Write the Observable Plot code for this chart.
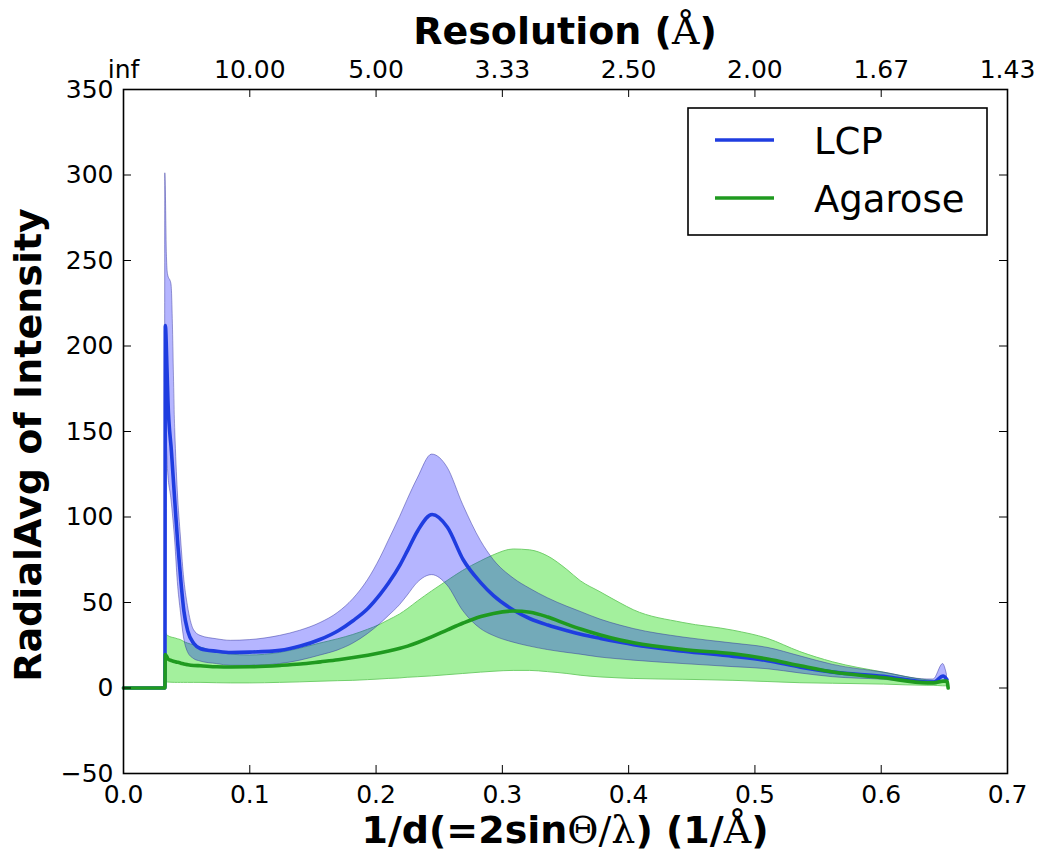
<!DOCTYPE html>
<html>
<head>
<meta charset="utf-8">
<script src="https://cdn.jsdelivr.net/npm/d3@7"></script>
<script src="https://cdn.jsdelivr.net/npm/@observablehq/plot@0.6"></script>
<style>
  html, body { margin: 0; padding: 0; background: #fff; }
  #wrap { position: relative; width: 1041px; height: 856px; overflow: hidden; }
  #wrap > svg { position: absolute; left: 0; top: 0; }
  #overlay { pointer-events: none; }
</style>
</head>
<body>
<div id="wrap"></div>
<script>
// 1/d grid (1/Å)
const q = [0, 0.0328, 0.0331, 0.0345, 0.0352, 0.038, 0.041, 0.043, 0.0455, 0.0478,
  0.051, 0.0557, 0.061, 0.074, 0.085, 0.1, 0.124, 0.14, 0.156, 0.17,
  0.182, 0.1935, 0.2035, 0.21, 0.219, 0.225, 0.233, 0.2444, 0.2565, 0.269,
  0.283, 0.293, 0.309, 0.322, 0.336, 0.3515, 0.362, 0.3777, 0.3935, 0.404,
  0.4434, 0.483, 0.51, 0.536, 0.562, 0.602, 0.6366, 0.6415, 0.649, 0.652, 0.653];

const lcpMean = [0, 0, 212, 185, 168, 138, 105, 84, 62, 45,
  33, 26, 23, 21.5, 20.8, 21, 22, 24.5, 28.5, 33.5,
  39.5, 46.5, 55, 61.5, 72, 80.5, 92, 101.5, 94, 75,
  61.5, 54, 45.5, 40.5, 36.8, 33.5, 31.5, 29, 26.7, 25.3,
  21.5, 18.5, 16, 12.2, 9.3, 6.8, 3.5, 3.5, 7, 5, NaN];
const lcpHigh = [0, 0, 301, 250, 242, 236, 150, 115, 88, 66,
  48, 34, 30.5, 28.5, 27.6, 28, 30.5, 33.5, 38, 44,
  52, 63, 76, 86, 100, 110, 122.5, 136.5, 129, 107,
  86, 75, 64, 58, 52.5, 47.5, 44.5, 40, 36.5, 34.5,
  29.5, 26, 23.5, 18.5, 13.5, 9, 5, 5, 14, 8, NaN];
const lcpLow = [0, 0, 160, 140, 128, 110, 85, 62, 44, 30,
  21, 17, 15.5, 14, 13, 13, 14, 16, 19, 22,
  26, 31.5, 37.5, 42, 48.5, 54, 61.5, 66, 60, 45,
  34.5, 30.5, 26.5, 24.2, 22.2, 20.5, 19.5, 17.8, 16.7, 16,
  14, 12.2, 11, 8.5, 6.3, 4.8, 2.7, 2.5, 3, 3, NaN];

const agMean = [0, 0, 19.5, 18, 17, 16, 15.3, 15, 14.5, 14,
  13.6, 13.2, 13, 12.4, 12.3, 12.4, 13.2, 14, 15.3, 16.5,
  17.8, 19.2, 20.6, 21.6, 23.2, 24.5, 26.6, 30, 34, 38,
  41.8, 43.6, 45, 44.3, 41.5, 37.2, 34.5, 31, 28, 26.4,
  22.5, 20, 17, 13, 9.3, 6, 3, 3, 4, 4, 0];
const agHigh = [0, 0, 32.5, 31, 30.5, 29.5, 29, 28.5, 28, 27,
  26, 25, 23.7, 21, 19.5, 19, 20.5, 23, 26, 28.5,
  31, 34, 37, 39.5, 43, 46, 50.5, 56.5, 62.5, 68.5,
  74, 77.5, 81, 80.5, 77, 69, 62.5, 56, 49.5, 45.5,
  38, 33.5, 28.8, 21, 15, 9, 4.5, 4.2, 4, 5, 0];
const agLow = [0, 0, 3.5, 3.3, 3.2, 3.1, 3, 3, 3, 3,
  3, 3, 3, 2.8, 2.7, 2.7, 3, 3.3, 3.7, 4,
  4.2, 4.6, 5, 5.3, 5.6, 6, 6.3, 6.8, 7.5, 8.2,
  9, 9.5, 10, 10, 9.3, 8.2, 7.2, 6.2, 5.6, 5.3,
  4.8, 4.2, 3.5, 2.8, 2.5, 2, 1.3, 1.3, 1, 1, 0];

const xTicks = [0, 0.1, 0.2, 0.3, 0.4, 0.5, 0.6, 0.7];
const resLabels = ["inf", "10.00", "5.00", "3.33", "2.50", "2.00", "1.67", "1.43"];
const yTicks = [-50, 0, 50, 100, 150, 200, 250, 300, 350];
const seriesNames = ["LCP", "Agarose"];
const seriesColors = ["#1f3de0", "#1f9a1f"];

const rows = q.map((x, i) => ({
  q: x,
  lcp: lcpMean[i], lcpHi: lcpHigh[i], lcpLo: lcpLow[i],
  ag: agMean[i], agHi: agHigh[i], agLo: agLow[i]
}));

const W = 1041, H = 856, mL = 123, mR = 34, mT = 89, mB = 83;
const frameW = W - mL - mR, frameH = H - mT - mB, tickLen = 8;

const chart = Plot.plot({
  width: W, height: H,
  marginLeft: mL, marginRight: mR, marginTop: mT, marginBottom: mB,
  x: {domain: [0, 0.7], label: null},
  y: {domain: [-50, 350], label: null},
  style: {fontFamily: "DejaVu Sans", fontSize: "25px", background: "white", color: "black"},
  marks: [
    Plot.areaY(rows, {x: "q", y1: "agLo", y2: "agHi", curve: "monotone-x",
      fill: "#a3f09d", stroke: "#72cf6c", strokeWidth: 1}),
    Plot.areaY(rows, {x: "q", y1: "lcpLo", y2: "lcpHi", curve: "monotone-x",
      fill: "#0000ff", fillOpacity: 0.29, stroke: "#2a2a9a", strokeOpacity: 0.45, strokeWidth: 1}),
    Plot.line(rows, {x: "q", y: "lcp", curve: "monotone-x", stroke: seriesColors[0], strokeWidth: 3.6}),
    Plot.line(rows, {x: "q", y: "ag", curve: "monotone-x", stroke: seriesColors[1], strokeWidth: 3.6}),
    // inward ticks
    Plot.tickX(xTicks, {x: d => d, insetTop: frameH - tickLen, stroke: "black", strokeWidth: 1}),
    Plot.tickX(xTicks, {x: d => d, insetBottom: frameH - tickLen, stroke: "black", strokeWidth: 1}),
    Plot.tickY(yTicks, {y: d => d, insetRight: frameW - tickLen, stroke: "black", strokeWidth: 1}),
    Plot.tickY(yTicks, {y: d => d, insetLeft: frameW - tickLen, stroke: "black", strokeWidth: 1}),
    Plot.axisX(xTicks, {anchor: "bottom", tickSize: 0, tickPadding: 12, label: null,
      tickFormat: d => d.toFixed(1)}),
    Plot.axisX(xTicks, {anchor: "top", tickSize: 0, tickPadding: 12, label: null,
      tickFormat: d => resLabels[xTicks.indexOf(d)]}),
    Plot.axisY(yTicks, {anchor: "left", tickSize: 0, tickPadding: 10, label: null,
      tickFormat: d => d < 0 ? "\u2212" + Math.abs(d) : String(d)}),
    Plot.frame({stroke: "black", strokeWidth: 1.6})
  ]
});

const wrap = document.getElementById("wrap");
wrap.appendChild(chart);

// Overlay: titles and legend
const ns = "http://www.w3.org/2000/svg";
const ov = document.createElementNS(ns, "svg");
ov.setAttribute("id", "overlay");
ov.setAttribute("width", W);
ov.setAttribute("height", H);
wrap.appendChild(ov);

function mkText(x, y, parts, opts = {}) {
  const t = document.createElementNS(ns, "text");
  t.setAttribute("x", x);
  t.setAttribute("y", y);
  t.setAttribute("font-family", "DejaVu Sans");
  t.setAttribute("font-size", opts.size || 38);
  t.setAttribute("font-weight", opts.weight || "bold");
  t.setAttribute("text-anchor", opts.anchor || "middle");
  if (opts.transform) t.setAttribute("transform", opts.transform);
  for (const p of parts) {
    const s = document.createElementNS(ns, "tspan");
    s.textContent = p.t;
    if (p.serif) { s.setAttribute("font-family", "DejaVu Serif"); s.setAttribute("font-weight", "normal"); }
    t.appendChild(s);
  }
  ov.appendChild(t);
  return t;
}

const cx = mL + frameW / 2;
mkText(cx, 44, [{t: "Resolution ("}, {t: "Å", serif: true}, {t: ")"}]);
mkText(cx, 843, [{t: "1/d(=2sin"}, {t: "Θ/λ", serif: true}, {t: ") (1/"}, {t: "Å", serif: true}, {t: ")"}]);
mkText(0, 0, [{t: "RadialAvg of Intensity"}], {transform: "translate(41,445) rotate(-90)"});

// Legend
const lg = document.createElementNS(ns, "rect");
lg.setAttribute("x", 688); lg.setAttribute("y", 108);
lg.setAttribute("width", 299); lg.setAttribute("height", 127);
lg.setAttribute("fill", "white"); lg.setAttribute("stroke", "black"); lg.setAttribute("stroke-width", 1.6);
ov.appendChild(lg);
seriesNames.forEach((name, i) => {
  const yLine = 140 + i * 58;
  const ln = document.createElementNS(ns, "line");
  ln.setAttribute("x1", 715); ln.setAttribute("x2", 774);
  ln.setAttribute("y1", yLine); ln.setAttribute("y2", yLine);
  ln.setAttribute("stroke", seriesColors[i]); ln.setAttribute("stroke-width", 3.6);
  ov.appendChild(ln);
  mkText(814, yLine + 14, [{t: name}], {size: 37, weight: "normal", anchor: "start"});
});
</script>
</body>
</html>
